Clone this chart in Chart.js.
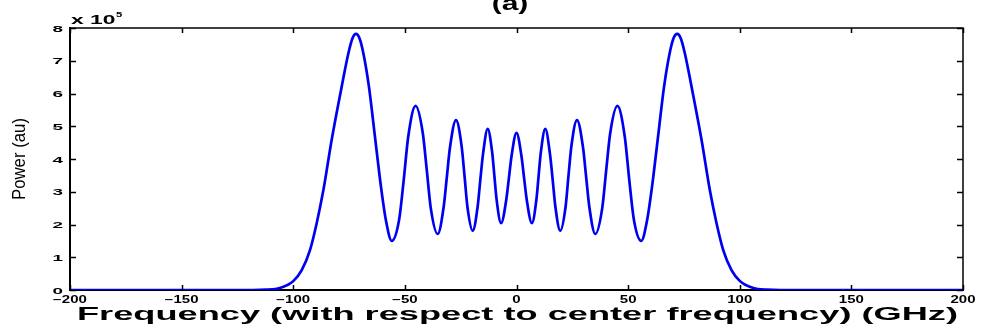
<!DOCTYPE html>
<html>
<head>
<meta charset="utf-8">
<script src="https://cdn.jsdelivr.net/npm/chart.js@4/dist/chart.umd.min.js"></script>
<style>
  html, body { margin: 0; padding: 0; background: #fff; }
  #wrap { width: 986px; height: 329px; position: relative; }
</style>
</head>
<body>
<div id="wrap"><canvas id="graph"></canvas></div>
<script>
// frequency (GHz, relative to center) and power (x 10^5 au)
var freqs = [-200, -150, -125, -118, -112, -108, -106, -103, -100, -96.2, -92.5, -89.5, -86.5, -82.8, -78.3, -75.3, -73.5, -71.9, -70.3, -68.6, -66.1, -63.4, -60.7, -58.5, -55.9,
  -52.6, -50.6, -48.5, -45.2, -42, -40.2, -38.4, -35.3, -32.6, -31.2, -29.8, -27.1, -24.6, -23.3, -22, -19.6, -17.4, -16.2, -15, -12.9, -10.9, -9.9, -8.9, -6.9, -4.6, -3.4, -2.2, 0,
  2.2, 3.4, 4.6, 6.9, 8.9, 9.9, 10.9, 12.9, 15, 16.2, 17.4, 19.6, 22, 23.3, 24.6, 27.1, 29.8, 31.2, 32.6, 35.3, 38.4, 40.2, 42, 45.2, 48.5, 50.6, 52.6,
  55.9, 58.5, 60.7, 63.4, 66.1, 68.6, 70.3, 72, 73.6, 75.4, 78.4, 82.9, 86.6, 89.6, 92.6, 96.3, 100.1, 103.1, 106.1, 108.1, 112.1, 118.1, 125, 150, 200];
var power = [0, 0, 0, 0, 0.01, 0.03, 0.06, 0.14, 0.27, 0.61, 1.22, 2.04, 3.05, 4.58, 6.21, 7.23, 7.68, 7.82, 7.68, 7.23, 6.21, 4.68, 3.15, 2.13, 1.50,
  2.14, 3.30, 4.68, 5.62, 4.80, 3.67, 2.50, 1.71, 2.55, 3.45, 4.35, 5.19, 4.40, 3.50, 2.55, 1.81, 2.55, 3.37, 4.15, 4.92, 4.20, 3.48, 2.75, 2.04, 2.75, 3.42, 4.10, 4.80,
  4.10, 3.42, 2.75, 2.04, 2.75, 3.48, 4.20, 4.92, 4.15, 3.37, 2.55, 1.81, 2.55, 3.50, 4.40, 5.19, 4.35, 3.45, 2.55, 1.71, 2.50, 3.67, 4.80, 5.62, 4.68, 3.30, 2.14,
  1.50, 2.13, 3.15, 4.68, 6.21, 7.23, 7.68, 7.82, 7.68, 7.23, 6.21, 4.58, 3.05, 2.04, 1.22, 0.61, 0.27, 0.14, 0.06, 0.03, 0.01, 0, 0, 0, 0];
var xTicks = [-200, -150, -100, -50, 0, 50, 100, 150, 200];
var yTicks = [0, 1, 2, 3, 4, 5, 6, 7, 8];

var points = freqs.map(function(f, i) { return {x: f, y: power[i]}; });

function stretchText(ctx, text, x, y, font, sx, align) {
  ctx.save();
  ctx.translate(x, y);
  ctx.scale(sx, 1);
  ctx.font = font;
  ctx.textAlign = align;
  ctx.fillText(text, 0, 0);
  ctx.restore();
}

// MATLAB-ish frame: inward ticks, stretched bold labels
var decor = {
  id: 'decor',
  afterDraw: function(chart) {
    var ctx = chart.ctx, a = chart.chartArea;
    var xs = chart.scales.x, ys = chart.scales.y;
    ctx.save();
    ctx.strokeStyle = '#000';
    ctx.lineWidth = 1.5;
    ctx.beginPath();
    ctx.moveTo(a.left, a.top); ctx.lineTo(a.right, a.top); ctx.lineTo(a.right, a.bottom);
    ctx.stroke();
    ctx.beginPath();
    xTicks.forEach(function(v) {
      var px = Math.round(xs.getPixelForValue(v)) + 0.5;
      ctx.moveTo(px, a.bottom); ctx.lineTo(px, a.bottom - 5);
      ctx.moveTo(px, a.top); ctx.lineTo(px, a.top + 5);
    });
    yTicks.forEach(function(v) {
      var py = Math.round(ys.getPixelForValue(v)) + 0.5;
      ctx.moveTo(a.left, py); ctx.lineTo(a.left + 6, py);
      ctx.moveTo(a.right, py); ctx.lineTo(a.right - 6, py);
    });
    ctx.stroke();

    ctx.fillStyle = '#000';
    ctx.textBaseline = 'alphabetic';
    xTicks.forEach(function(v) {
      var s = v < 0 ? '\u2212' + (-v) : String(v);
      stretchText(ctx, s, xs.getPixelForValue(v), 303, 'bold 10px "Liberation Sans"', 1.5, 'center');
    });
    yTicks.forEach(function(v) {
      stretchText(ctx, String(v), a.left - 7, ys.getPixelForValue(v) + 3.5, 'bold 9px "Liberation Sans"', 2.1, 'right');
    });

    // multiplier
    stretchText(ctx, 'x 10', a.left + 1, 24, 'bold 12px "Liberation Sans"', 1.9, 'left');
    stretchText(ctx, '5', a.left + 46, 17, 'bold 8px "Liberation Sans"', 1.4, 'left');

    // title
    stretchText(ctx, '(a)', 510, 10, 'bold 20px "Liberation Sans"', 1.5, 'center');

    // x axis title, fitted to the reference width
    var xt = 'Frequency (with respect to center frequency) (GHz)';
    ctx.font = 'bold 18px "Liberation Sans"';
    var w = ctx.measureText(xt).width;
    stretchText(ctx, xt, 517.5, 320, 'bold 18px "Liberation Sans"', 881 / w, 'center');

    // y axis title
    ctx.save();
    ctx.translate(25, 159);
    ctx.rotate(-Math.PI / 2);
    ctx.font = '18px "Liberation Sans"';
    var yw = ctx.measureText('Power (au)').width;
    ctx.scale(82 / yw, 1);
    ctx.textAlign = 'center';
    ctx.fillText('Power (au)', 0, 0);
    ctx.restore();
    ctx.restore();
  }
};

var ctx = document.getElementById('graph');
var myChart = new Chart(ctx, {
  type: 'line',
  data: {
    datasets: [{
      data: points,
      fill: false,
      borderColor: '#0000f0',
      borderWidth: 2.7,
      pointRadius: 0,
      cubicInterpolationMode: 'monotone'
    }]
  },
  options: {
    responsive: true,
    maintainAspectRatio: false,
    animation: false,
    layout: { padding: { left: 70, right: 23, top: 28, bottom: 39 } },
    plugins: { legend: { display: false }, tooltip: { enabled: false } },
    scales: {
      x: {
        type: 'linear', min: -200, max: 200,
        ticks: { display: false },
        grid: { display: false, drawTicks: false },
        border: { display: true, color: '#000', width: 2 }
      },
      y: {
        min: 0, max: 8,
        ticks: { display: false },
        grid: { display: false, drawTicks: false },
        border: { display: true, color: '#000', width: 2 }
      }
    }
  },
  plugins: [decor]
});
</script>
</body>
</html>
